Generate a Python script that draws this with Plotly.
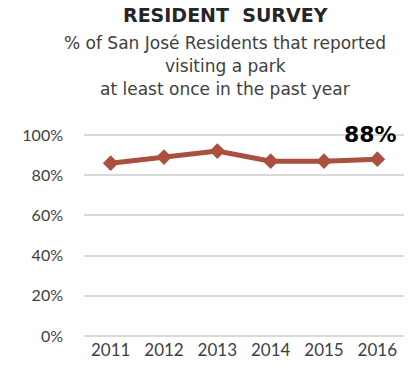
import plotly.graph_objects as go

years = ["2011", "2012", "2013", "2014", "2015", "2016"]
visited_pct = [86, 89, 92, 87, 87, 88]
y_ticks = [0, 20, 40, 60, 80, 100]
y_tick_labels = ["0%", "20%", "40%", "60%", "80%", "100%"]

line_color = "#A9503F"
text_color = "#404040"
tick_font = "Lato"
title_font = "DejaVu Sans"

fig = go.Figure()
fig.add_trace(go.Scatter(
    x=years, y=visited_pct, mode="lines+markers",
    line=dict(color=line_color, width=5),
    marker=dict(symbol="diamond", size=12, color=line_color),
    hoverinfo="skip", showlegend=False,
))

# value label on the latest year (category index of the last point)
fig.add_annotation(
    x=len(years) - 1, y=visited_pct[-1], text=f"<b>{visited_pct[-1]}%</b>",
    showarrow=False, yshift=25, xshift=-7,
    font=dict(family="DejaVu Sans", size=22, color="#000000"),
)

title_lines = [
    ("RESIDENT  SURVEY", 19, 15, "#262626", 700),
    ("% of San José Residents that reported", 17, 43, text_color, 400),
    ("visiting a park", 17, 66, text_color, 400),
    ("at least once in the past year", 17, 89, text_color, 400),
]
for txt, size, ypix, col, wt in title_lines:
    fig.add_annotation(
        xref="paper", yref="paper", x=(225 - 84) / 320, y=1 + (133 - ypix) / 205,
        text=txt, showarrow=False, xanchor="center", yanchor="middle",
        font=dict(family=title_font, size=size, color=col, weight=wt),
    )

fig.update_layout(
    width=408, height=374,
    margin=dict(l=84, r=4, t=133, b=36),
    paper_bgcolor="white", plot_bgcolor="white",
    font=dict(family=tick_font, size=16, color=text_color),
    xaxis=dict(
        type="category", range=[-0.5, 5.5], showgrid=False, showline=False,
        ticks="", tickfont=dict(family=tick_font, size=17), fixedrange=True,
    ),
    yaxis=dict(
        range=[-1, 101], tickvals=y_ticks, ticktext=y_tick_labels,
        showgrid=True, gridcolor="#d9d9d9", gridwidth=1.5, zeroline=False,
        showline=False, ticks="", tickfont=dict(family=tick_font, size=16),
        ticklabelstandoff=20, fixedrange=True,
    ),
)

fig.write_html("out.html")
